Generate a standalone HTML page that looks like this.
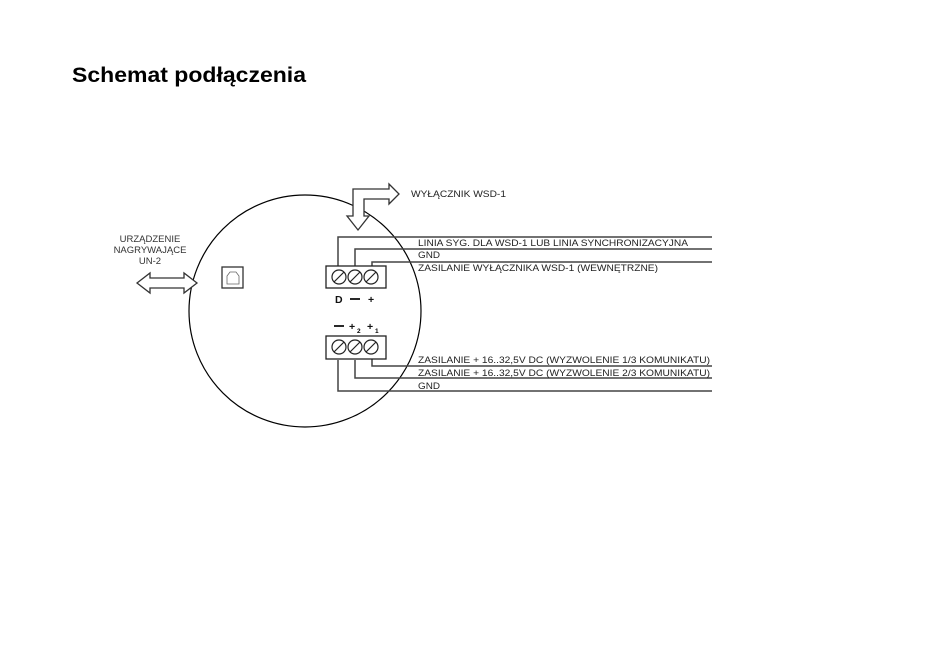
<!DOCTYPE html>
<html><head><meta charset="utf-8"><style>
html,body{margin:0;padding:0;background:#fff;}
svg{display:block}
</style></head><body>
<svg width="932" height="655" xmlns="http://www.w3.org/2000/svg" font-family="Liberation Sans, sans-serif">
<text x="72" y="82" font-size="21" font-weight="bold" fill="#000" textLength="234" lengthAdjust="spacingAndGlyphs" font-family="Liberation Sans, DejaVu Sans, sans-serif">Schemat podłączenia</text>
<circle cx="305" cy="311" r="116" fill="none" stroke="#000" stroke-width="1.2"/>
<path d="M353,216 L353,189 L389,189 L389,184 L399,194 L389,204 L389,199 L364,199 L364,216 L369,216 L358,230 L347,216 Z" fill="#fff" stroke="#333" stroke-width="1.3"/>
<text x="411" y="197" font-size="9.5" fill="#222" textLength="95" lengthAdjust="spacingAndGlyphs">WYŁĄCZNIK WSD-1</text>
<path d="M137,283 L150,273 L150,278 L184,278 L184,273 L197,283 L184,293 L184,288 L150,288 L150,293 Z" fill="#fff" stroke="#333" stroke-width="1.3"/>
<text font-size="9.5" fill="#333" text-anchor="middle"><tspan x="150" y="242">URZĄDZENIE</tspan><tspan x="150" y="253">NAGRYWAJĄCE</tspan><tspan x="150" y="264">UN-2</tspan></text>
<rect x="222" y="267" width="21" height="21" fill="#fff" stroke="#333" stroke-width="1.3"/>
<path d="M227,284 L227,276 L230,272 L236,272 L239,276 L239,284 Z" fill="none" stroke="#666" stroke-width="0.8"/>
<g fill="none" stroke="#444" stroke-width="1.5">
<path d="M338,266 V237 H712"/>
<path d="M355,266 V249 H712"/>
<path d="M372,266 V262 H712"/>
<path d="M372,336 V366 H712"/>
<path d="M355,360 V378 H712"/>
<path d="M338,360 V391 H712"/>
</g>
<rect x="326" y="266" width="60" height="22" fill="#fff" stroke="#222" stroke-width="1.3"/>
<rect x="326" y="336" width="60" height="23" fill="#fff" stroke="#222" stroke-width="1.3"/>
<g fill="none" stroke="#222" stroke-width="1.2">
<circle cx="339" cy="277" r="7"/><line x1="334" y1="282" x2="344" y2="272"/>
<circle cx="355" cy="277" r="7"/><line x1="350" y1="282" x2="360" y2="272"/>
<circle cx="371" cy="277" r="7"/><line x1="366" y1="282" x2="376" y2="272"/>
<circle cx="339" cy="347" r="7"/><line x1="334" y1="352" x2="344" y2="342"/>
<circle cx="355" cy="347" r="7"/><line x1="350" y1="352" x2="360" y2="342"/>
<circle cx="371" cy="347" r="7"/><line x1="366" y1="352" x2="376" y2="342"/>
</g>
<g font-size="10.5" font-weight="bold" fill="#111">
<text x="335" y="303">D</text><text x="368" y="303">+</text>
<text x="349" y="330">+</text><text x="367" y="330">+</text>
</g>
<g stroke="#111" stroke-width="1.8">
<line x1="350" y1="299" x2="360" y2="299"/>
<line x1="334" y1="326" x2="344" y2="326"/>
</g>
<text x="357" y="333" font-size="6.5" font-weight="bold">2</text>
<text x="375" y="333" font-size="6.5" font-weight="bold">1</text>
<g font-size="9.5" fill="#222" lengthAdjust="spacingAndGlyphs">
<text x="418" y="246" textLength="270" lengthAdjust="spacingAndGlyphs">LINIA SYG. DLA WSD-1 LUB LINIA SYNCHRONIZACYJNA</text>
<text x="418" y="258" textLength="22" lengthAdjust="spacingAndGlyphs">GND</text>
<text x="418" y="271" textLength="240" lengthAdjust="spacingAndGlyphs">ZASILANIE WYŁĄCZNIKA WSD-1 (WEWNĘTRZNE)</text>
<text x="418" y="363" textLength="292" lengthAdjust="spacingAndGlyphs">ZASILANIE + 16..32,5V DC (WYZWOLENIE 1/3 KOMUNIKATU)</text>
<text x="418" y="376" textLength="292" lengthAdjust="spacingAndGlyphs">ZASILANIE + 16..32,5V DC (WYZWOLENIE 2/3 KOMUNIKATU)</text>
<text x="418" y="389" textLength="22" lengthAdjust="spacingAndGlyphs">GND</text>
</g>
</svg>
</body></html>
